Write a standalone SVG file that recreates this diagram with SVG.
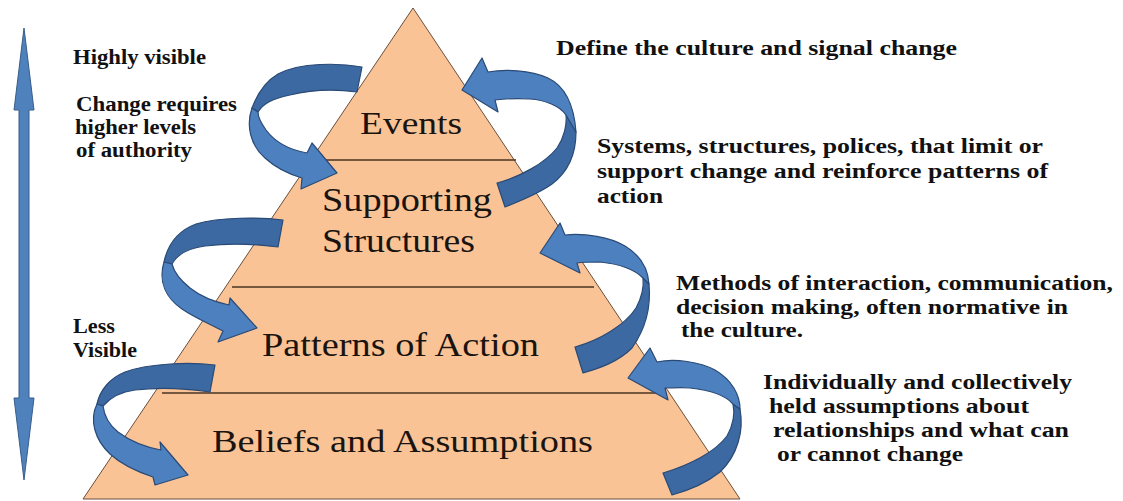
<svg xmlns="http://www.w3.org/2000/svg" width="1123" height="501" viewBox="0 0 1123 501">
<style>
.layer{fill:#F9C396;stroke:none}
.lbl{font-family:"Liberation Serif","Times New Roman",serif;fill:#1a1410}
.note{font-family:"Liberation Serif","Times New Roman",serif;font-weight:bold;font-size:20px;fill:#111}
.dark{fill:#3C69A1;stroke:#2A4A76;stroke-width:1.2;stroke-linejoin:round}
.light{fill:#4D80BE;stroke:#2A4A76;stroke-width:1.2;stroke-linejoin:round}
.div{stroke:#4a3323;stroke-width:1.5}
</style>
<rect width="1123" height="501" fill="#ffffff"/>
<g id="layer-events">
<polygon class="layer" points="413,8 514.2,160 310.9,160"/>
<text class="lbl" x="360" y="134" font-size="31" textLength="102" lengthAdjust="spacingAndGlyphs">Events</text>
</g>
<g id="layer-supporting">
<polygon class="layer" points="310.9,160 514.2,160 598.8,287 225.5,287"/>
<text class="lbl" x="322" y="211" font-size="33" textLength="170" lengthAdjust="spacingAndGlyphs">Supporting</text>
<text class="lbl" x="322" y="252" font-size="33" textLength="153" lengthAdjust="spacingAndGlyphs">Structures</text>
</g>
<g id="layer-patterns">
<polygon class="layer" points="225.5,287 598.8,287 669.4,393 154.3,393"/>
<text class="lbl" x="262" y="356" font-size="33" textLength="277" lengthAdjust="spacingAndGlyphs">Patterns of Action</text>
</g>
<g id="layer-beliefs">
<polygon class="layer" points="154.3,393 669.4,393 740,499 83,499"/>
<text class="lbl" x="212" y="452" font-size="32" textLength="381" lengthAdjust="spacingAndGlyphs">Beliefs and Assumptions</text>
</g>
<g id="pyramid-outline">
<polygon points="413,8 740,499 83,499" fill="none" stroke="#6b4e3a" stroke-width="1"/>
<line class="div" x1="311" y1="160" x2="516" y2="160"/>
<line class="div" x1="232" y1="287" x2="594" y2="287"/>
<line class="div" x1="162" y1="393" x2="664" y2="393"/>
</g>
<g id="visibility-arrow">
<polygon points="24,28 34,110 29,110 29,398 34,398 24,480 14,398 19,398 19,110 14,110" fill="#4F81BD" stroke="#385D8A" stroke-width="1"/>
</g>
<g id="connectors">
<g id="arrow-events-supporting">
<path class="dark" d="M362,67 C340,63 300,62 278,74 C266,81 258,92 252,108 L258,112 C263,104 271,99 290,95 C310,90 335,89 357,92 Z"/>
<path class="light" d="M252,108 C246,125 250,145 265,158 C278,170 292,175 302,178 L301,189 L337,173 L312,143 L307,153 C290,150 275,142 266,130 C261,123 258,117 258,112 Z"/>
</g>
<g id="arrow-supporting-events">
<path class="dark" d="M497,183 C520,177 545,163 557,148 C564,138 567,125 566,115 L576,132 C576,155 568,172 552,184 C538,194 520,201 505,207 Z"/>
<path class="light" d="M566,115 C560,106 545,100 530,99 C515,98 503,99 495,100 L498,112 L462,90 L482,58 L488,72 C505,69 530,70 548,78 C565,86 574,105 576,132 Z"/>
</g>
<g id="arrow-supporting-patterns">
<path class="dark" d="M283,220 C260,217 220,217 196,224 C180,230 168,243 164,262 L172,264 C178,253 190,248 205,246 C230,243 255,244 278,247 Z"/>
<path class="light" d="M164,262 C158,282 166,298 182,309 C195,318 210,324 223,331 L218,342 L257,328 L230,298 L229,305 C215,302 200,296 190,288 C180,280 174,272 172,264 Z"/>
</g>
<g id="arrow-patterns-supporting">
<path class="dark" d="M575,347 C600,340 625,325 636,308 C642,297 644,287 643,278 L649,284 C651,305 646,328 632,348 C618,362 600,368 583,373 Z"/>
<path class="light" d="M643,278 C635,270 620,264 600,262 C590,262 583,262 577,263 L580,273 L540,253 L560,223 L565,235 C585,233 610,237 625,246 C640,255 648,268 649,284 Z"/>
</g>
<g id="arrow-patterns-beliefs">
<path class="dark" d="M215,365 C190,362 150,363 125,372 C110,378 100,390 97,404 L103,406 C110,398 120,392 135,390 C160,387 190,389 210,392 Z"/>
<path class="light" d="M97,404 C89,420 95,440 110,454 C122,465 138,472 153,477 L155,485 L188,475 L160,442 L161,450 C145,447 130,441 118,432 C108,424 104,414 103,406 Z"/>
</g>
<g id="arrow-beliefs-patterns">
<path class="dark" d="M663,473 C690,465 715,452 727,436 C733,425 735,413 733,404 L740,409 C744,430 738,455 720,472 C705,484 690,490 672,495 Z"/>
<path class="light" d="M733,404 C725,395 710,390 690,388 C680,387 672,388 665,388 L668,400 L628,378 L650,348 L657,362 C675,358 700,362 715,370 C732,380 740,395 740,409 Z"/>
</g>
</g>
<g id="left-notes">
<text class="note" x="73" y="64" textLength="133" lengthAdjust="spacingAndGlyphs">Highly visible</text>
<text class="note" x="76" y="111" textLength="161" lengthAdjust="spacingAndGlyphs">Change requires</text>
<text class="note" x="75" y="134" textLength="121" lengthAdjust="spacingAndGlyphs">higher levels</text>
<text class="note" x="76" y="157" textLength="116" lengthAdjust="spacingAndGlyphs">of authority</text>
<text class="note" x="73" y="333" textLength="42" lengthAdjust="spacingAndGlyphs">Less</text>
<text class="note" x="73" y="357" textLength="64" lengthAdjust="spacingAndGlyphs">Visible</text>
</g>
<g id="right-notes">
<text class="note" x="556" y="55" textLength="401" lengthAdjust="spacingAndGlyphs">Define the culture and signal change</text>
<text class="note" x="597" y="153" textLength="446" lengthAdjust="spacingAndGlyphs">Systems, structures, polices, that limit or</text>
<text class="note" x="597" y="178" textLength="451" lengthAdjust="spacingAndGlyphs">support change and reinforce patterns of</text>
<text class="note" x="597" y="203" textLength="66" lengthAdjust="spacingAndGlyphs">action</text>
<text class="note" x="676" y="290" textLength="437" lengthAdjust="spacingAndGlyphs">Methods of interaction, communication,</text>
<text class="note" x="676" y="314" textLength="392" lengthAdjust="spacingAndGlyphs">decision making, often normative in</text>
<text class="note" x="681" y="337" textLength="122" lengthAdjust="spacingAndGlyphs">the culture.</text>
<text class="note" x="763" y="389" textLength="309" lengthAdjust="spacingAndGlyphs">Individually and collectively</text>
<text class="note" x="769" y="413" textLength="260" lengthAdjust="spacingAndGlyphs">held assumptions about</text>
<text class="note" x="773" y="437" textLength="296" lengthAdjust="spacingAndGlyphs">relationships and what can</text>
<text class="note" x="777" y="461" textLength="186" lengthAdjust="spacingAndGlyphs">or cannot change</text>
</g>
</svg>
